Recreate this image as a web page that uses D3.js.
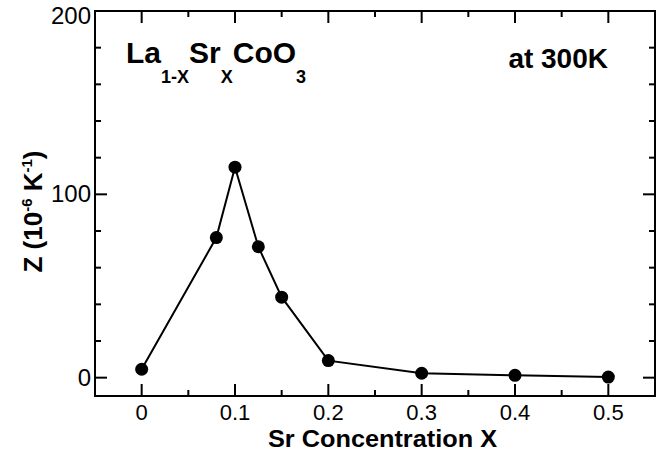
<!DOCTYPE html>
<html>
<head>
<meta charset="utf-8">
<script src="https://cdn.jsdelivr.net/npm/d3@7"></script>
<style>
  body { margin: 0; background: #fff; }
  text { font-family: "Liberation Sans", Arial, sans-serif; fill: #000; }
</style>
</head>
<body>
<div id="chart"></div>
<script>
const concentration = [0, 0.08, 0.1, 0.125, 0.15, 0.2, 0.3, 0.4, 0.5];
const zValues = [4.6, 76.4, 114.8, 71.4, 43.9, 9.3, 2.4, 1.3, 0.3];
const xTicks = [0, 0.1, 0.2, 0.3, 0.4, 0.5];
const xMinor = [0.05, 0.15, 0.25, 0.35, 0.45];
const yTicks = [0, 100, 200];
const yMinor = [20, 40, 60, 80, 120, 140, 160, 180];

const width = 665;
const height = 459;
const margin = { top: 11, right: 10, bottom: 63, left: 95 };

const svg = d3.select("#chart")
  .append("svg")
  .attr("width", width)
  .attr("height", height);

const x = d3.scaleLinear()
  .domain([-0.05, 0.55])
  .range([margin.left, width - margin.right]);

const y = d3.scaleLinear()
  .domain([-10, 200])
  .range([height - margin.bottom, margin.top]);

const x0 = margin.left, x1 = width - margin.right;
const y0 = height - margin.bottom, y1 = margin.top;

// ticks on all four sides, pointing inward
const tickG = svg.append("g").attr("stroke", "#000").attr("stroke-width", 2);
const major = 12, minor = 6;
function xt(vals, len) {
  vals.forEach(v => {
    tickG.append("line").attr("x1", x(v)).attr("x2", x(v)).attr("y1", y0).attr("y2", y0 - len);
    tickG.append("line").attr("x1", x(v)).attr("x2", x(v)).attr("y1", y1).attr("y2", y1 + len);
  });
}
function yt(vals, len) {
  vals.forEach(v => {
    tickG.append("line").attr("y1", y(v)).attr("y2", y(v)).attr("x1", x0).attr("x2", x0 + len);
    tickG.append("line").attr("y1", y(v)).attr("y2", y(v)).attr("x1", x1).attr("x2", x1 - len);
  });
}
xt(xTicks, major); xt(xMinor, minor);
yt(yTicks, major); yt(yMinor, minor);

svg.append("rect")
  .attr("x", x0).attr("y", y1)
  .attr("width", x1 - x0).attr("height", y0 - y1)
  .attr("fill", "none").attr("stroke", "#000").attr("stroke-width", 2);

// tick labels
svg.append("g").selectAll("text")
  .data(xTicks)
  .join("text")
  .attr("x", d => x(d))
  .attr("y", 420)
  .attr("text-anchor", "middle")
  .attr("font-size", 22)
  .text(d => d3.format("")(d));

svg.append("g").selectAll("text")
  .data(yTicks)
  .join("text")
  .attr("x", 91)
  .attr("y", d => Math.max(y(d) + 8, 24))
  .attr("text-anchor", "end")
  .attr("font-size", 24)
  .text(d => d);

// data line and markers
const line = d3.line()
  .x((d, i) => x(concentration[i]))
  .y(d => y(d));

svg.append("path")
  .datum(zValues)
  .attr("d", line)
  .attr("fill", "none")
  .attr("stroke", "#000")
  .attr("stroke-width", 2);

svg.append("g").selectAll("circle")
  .data(zValues)
  .join("circle")
  .attr("cx", (d, i) => x(concentration[i]))
  .attr("cy", d => y(d))
  .attr("r", 6.5)
  .attr("fill", "#000");

// axis titles
svg.append("text")
  .attr("x", 268)
  .attr("y", 447)
  .attr("font-size", 24)
  .attr("font-weight", "bold")
  .attr("textLength", 229)
  .attr("lengthAdjust", "spacingAndGlyphs")
  .text("Sr Concentration X");

const yl = svg.append("text")
  .attr("transform", `translate(42,${(y0 + y1) / 2 + 8}) rotate(-90)`)
  .attr("text-anchor", "middle")
  .attr("font-size", 26)
  .attr("font-weight", "bold");
yl.append("tspan").text("Z (10");
yl.append("tspan").attr("font-size", 15).attr("dy", -10).text("-6");
yl.append("tspan").attr("dy", 10).text(" K");
yl.append("tspan").attr("font-size", 15).attr("dy", -10).text("-1");
yl.append("tspan").attr("dy", 10).text(")");

// in-plot labels
const formula = svg.append("text")
  .attr("x", 126)
  .attr("y", 63)
  .attr("font-size", 30)
  .attr("font-weight", "bold");
const parts = [["La", false], ["1-X", true], ["Sr", false], ["X", true], ["CoO", false], ["3", true]];
parts.forEach(([t, sub]) => {
  formula.append("tspan")
    .attr("font-size", sub ? 18 : 30)
    .attr("dy", sub ? 20 : -20)
    .text(t);
});
formula.select("tspan").attr("dy", 0);

svg.append("text")
  .attr("x", 608)
  .attr("y", 68)
  .attr("text-anchor", "end")
  .attr("font-size", 28)
  .attr("font-weight", "bold")
  .text("at 300K");
</script>
</body>
</html>
